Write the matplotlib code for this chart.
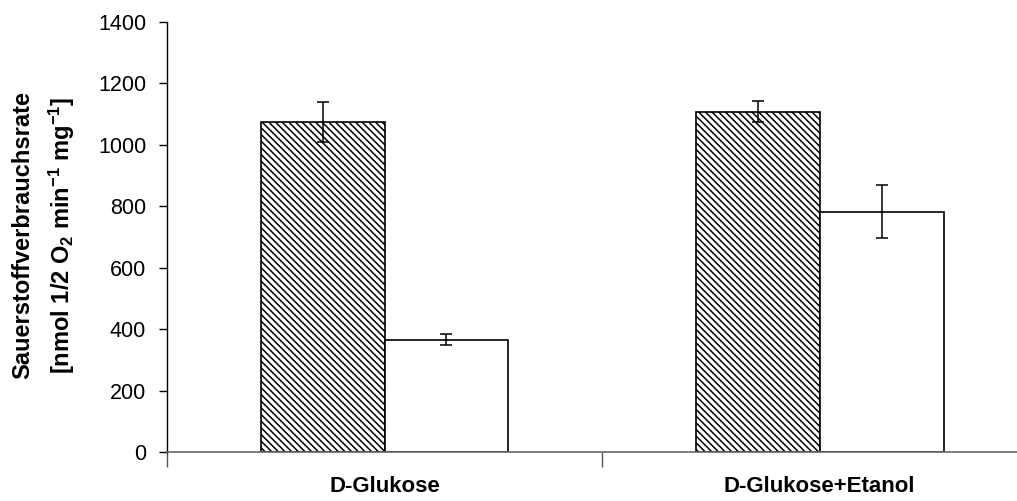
import numpy as np
import matplotlib.pyplot as plt

plt.rcParams["font.family"] = ["Liberation Sans", "DejaVu Sans"]
plt.rcParams["mathtext.fontset"] = "custom"
plt.rcParams["mathtext.rm"] = "Liberation Sans:bold"
plt.rcParams["mathtext.default"] = "rm"
plt.rcParams["hatch.linewidth"] = 1.1
plt.rcParams["hatch.color"] = "#505050"

# data
categories = ["D-Glukose", "D-Glukose+Etanol"]
hatched_vals = [1073, 1108]
hatched_err = [65, 35]
white_vals = [366, 783]
white_err = [18, 85]
y_ticks = [0, 200, 400, 600, 800, 1000, 1200, 1400]
label_line1 = "Sauerstoffverbrauchsrate"
label_line2 = r"[nmol 1/2 O$_2$ min$^{-1}$ mg$^{-1}$]"

fig = plt.figure(figsize=(10.17, 5.01), dpi=100)
ax = fig.add_axes([0.1642, 0.0978, 0.8555, 0.8583])

x = np.arange(len(categories))
w = 0.285

ax.bar(x - w / 2, hatched_vals, w, color="white", edgecolor="black",
       hatch="\\" * 5, linewidth=1.2, zorder=2)
ax.bar(x + w / 2, white_vals, w, color="white", edgecolor="black",
       linewidth=1.2, zorder=2)
ax.errorbar(x - w / 2, hatched_vals, yerr=hatched_err, fmt="none",
            ecolor="black", elinewidth=1.1, capsize=4.3, capthick=1.1, zorder=3)
ax.errorbar(x + w / 2, white_vals, yerr=white_err, fmt="none",
            ecolor="black", elinewidth=1.1, capsize=4.3, capthick=1.1, zorder=3)

ax.set_xlim(-0.5, 1.5)
ax.set_ylim(0, 1400)
ax.set_yticks(y_ticks)
ax.tick_params(axis="y", labelsize=15.5, length=6, width=1, pad=9)

# category boundaries as major ticks, names as minor tick labels
ax.set_xticks([-0.5, 0.5, 1.5])
ax.set_xticklabels([])
ax.tick_params(axis="x", which="major", length=11, width=1, color="#555555")
ax.set_xticks(x, minor=True)
ax.set_xticklabels(categories, minor=True, fontsize=16, fontweight="bold")
ax.tick_params(axis="x", which="minor", length=0, pad=17)

for s in ["top", "right"]:
    ax.spines[s].set_visible(False)
ax.spines["left"].set_linewidth(1.0)
ax.spines["bottom"].set_color("#666666")
ax.spines["bottom"].set_linewidth(1.2)

# two-line y label, placed as two texts to get the wide line gap
yc = 1 - 235 / 501
fig.text(23 / 1017, yc, label_line1, rotation=90, ha="center", va="center",
         fontsize=17, fontweight="bold")
fig.text(62 / 1017, yc, label_line2, rotation=90, ha="center", va="center",
         fontsize=17, fontweight="bold")

fig.savefig("out.png", dpi=100)
